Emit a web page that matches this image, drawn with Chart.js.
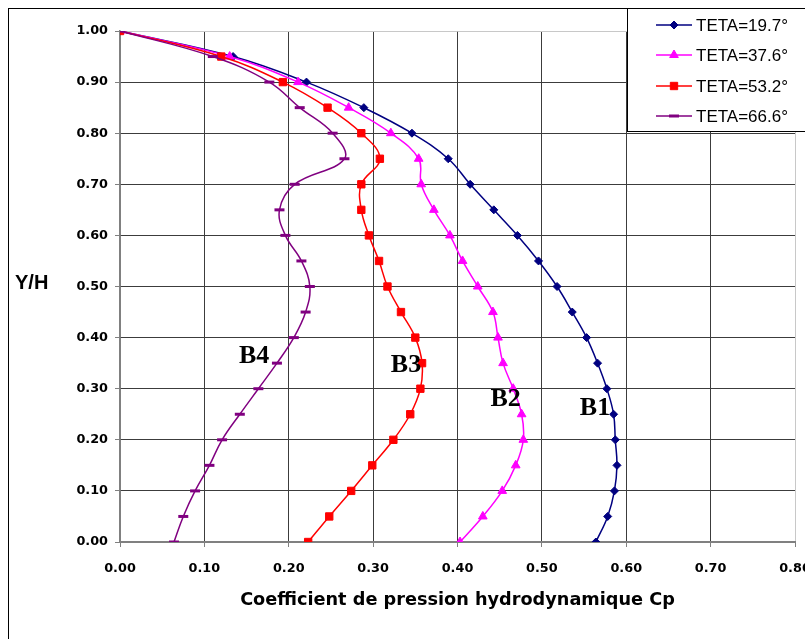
<!DOCTYPE html>
<html>
<head>
<meta charset="utf-8">
<script src="https://cdn.jsdelivr.net/npm/chart.js@4.4.1/dist/chart.umd.min.js"></script>
<style>
  html, body { margin: 0; padding: 0; background: #fff; overflow: hidden; }
  #wrap { width: 805px; height: 639px; overflow: hidden; }
</style>
</head>
<body>
<div id="wrap"><canvas id="chart" width="840" height="639"></canvas></div>
<script>
// Y/H levels, shared by every series (bottom to top)
const yLevels = [0.00, 0.05, 0.10, 0.15, 0.20, 0.25, 0.30, 0.35, 0.40, 0.45, 0.50,
                 0.55, 0.60, 0.65, 0.70, 0.75, 0.80, 0.85, 0.90, 0.95, 1.00];

// Cp, one value per Y/H level
const cpTeta197 = [0.564, 0.578, 0.586, 0.589, 0.587, 0.585, 0.577, 0.566, 0.553, 0.536, 0.518,
                   0.496, 0.471, 0.443, 0.415, 0.389, 0.346, 0.289, 0.221, 0.134, 0.000];
const cpTeta376 = [0.403, 0.430, 0.453, 0.469, 0.478, 0.476, 0.466, 0.454, 0.448, 0.442, 0.424,
                   0.406, 0.391, 0.372, 0.357, 0.354, 0.321, 0.271, 0.211, 0.130, 0.000];
const cpTeta532 = [0.223, 0.248, 0.274, 0.299, 0.324, 0.344, 0.356, 0.358, 0.350, 0.333, 0.317,
                   0.307, 0.295, 0.286, 0.286, 0.308, 0.286, 0.246, 0.193, 0.120, 0.000];
const cpTeta666 = [0.064, 0.075, 0.089, 0.106, 0.121, 0.142, 0.164, 0.186, 0.206, 0.220, 0.225,
                   0.215, 0.196, 0.189, 0.207, 0.266, 0.252, 0.213, 0.177, 0.110, 0.000];

const seriesNames = ["TETA=19.7°", "TETA=37.6°", "TETA=53.2°", "TETA=66.6°"];

// curve tags written on the plot (data coords of the text's left/baseline)
const curveTags = ["B1", "B2", "B3", "B4"];
const curveTagCp = [0.545, 0.439, 0.321, 0.141];
const curveTagY = [0.249, 0.266, 0.333, 0.350];

function toPoints(cp) {
  return cp.map((c, i) => ({ x: c, y: yLevels[i] }));
}

const SANS = "'Liberation Sans', Arial, sans-serif";
const WIDE = "'DejaVu Sans', Verdana, sans-serif";

function makeSeries(label, cp, color, style, radius, order, extra) {
  return Object.assign({
    label: label,
    data: toPoints(cp),
    showLine: true,
    tension: 0.4,
    borderColor: color,
    backgroundColor: color,
    borderWidth: 1.5,
    pointStyle: style,
    pointRadius: radius,
    pointHoverRadius: radius,
    pointBackgroundColor: color,
    pointBorderColor: color,
    pointBorderWidth: 1,
    order: order,
  }, extra || {});
}

const datasets = [
  makeSeries(seriesNames[0], cpTeta197, "#000080", "rectRot", 4, 4),
  makeSeries(seriesNames[1], cpTeta376, "#FF00FF", "triangle", 5, 3),
  makeSeries(seriesNames[2], cpTeta532, "#FF0000", "rect", 5.2, 2),
  makeSeries(seriesNames[3], cpTeta666, "#800080", "line", 5, 1, { pointBorderWidth: 3 }),
];

// white page + thin outer frame
const framePlugin = {
  id: "frame",
  beforeDraw(chart) {
    const ctx = chart.ctx;
    ctx.save();
    ctx.fillStyle = "#fff";
    ctx.fillRect(0, 0, chart.width, chart.height);
    ctx.strokeStyle = "#000";
    ctx.lineWidth = 1;
    ctx.strokeRect(8.5, 8.5, chart.width + 20, chart.height + 20);
    ctx.restore();
  },
};

// B1..B4 tags and the horizontal Y/H title
const textPlugin = {
  id: "texts",
  afterDatasetsDraw(chart) {
    const ctx = chart.ctx;
    const xs = chart.scales.x, ys = chart.scales.y;
    ctx.save();
    ctx.fillStyle = "#000";
    ctx.textBaseline = "alphabetic";
    ctx.textAlign = "left";
    ctx.font = "bold 26px 'Liberation Serif', 'Times New Roman', serif";
    curveTags.forEach((t, i) => {
      ctx.fillText(t, xs.getPixelForValue(curveTagCp[i]), ys.getPixelForValue(curveTagY[i]));
    });
    ctx.font = "bold 20px " + SANS;
    ctx.textBaseline = "middle";
    ctx.fillText("Y/H", 15, ys.getPixelForValue(0.505));
    ctx.restore();
  },
};

// legend box in the top right corner
const legendPlugin = {
  id: "boxLegend",
  afterDraw(chart) {
    const ctx = chart.ctx;
    ctx.save();
    ctx.fillStyle = "#fff";
    ctx.fillRect(627.5, 8.5, 300, 123);
    ctx.strokeStyle = "#000";
    ctx.lineWidth = 1;
    ctx.strokeRect(627.5, 8.5, 300, 123);
    const rowY = [25, 55, 86, 116];
    chart.data.datasets.forEach((ds, i) => {
      const y = rowY[i];
      ctx.strokeStyle = ds.borderColor;
      ctx.lineWidth = ds.borderWidth;
      ctx.beginPath();
      ctx.moveTo(656, y);
      ctx.lineTo(692, y);
      ctx.stroke();
      ctx.fillStyle = ds.pointBackgroundColor;
      ctx.strokeStyle = ds.pointBorderColor;
      ctx.lineWidth = ds.pointBorderWidth;
      Chart.helpers.drawPoint(ctx, { pointStyle: ds.pointStyle, radius: ds.pointRadius, rotation: 0, borderWidth: ds.pointBorderWidth }, 674, y);
      ctx.fillStyle = "#000";
      ctx.font = "17px " + SANS;
      ctx.textAlign = "left";
      ctx.textBaseline = "middle";
      ctx.fillText(ds.label, 696, y + 1);
    });
    ctx.restore();
  },
};

const gridColor = (max) => (c) => {
  if (c.tick.value === 0) return "#808080";
  if (Math.abs(c.tick.value - max) < 1e-9) return "#c8c8c8";
  return "#3c3c3c";
};

new Chart(document.getElementById("chart"), {
  type: "scatter",
  data: { datasets: datasets },
  plugins: [framePlugin, textPlugin, legendPlugin],
  options: {
    responsive: false,
    animation: false,
    devicePixelRatio: 1,
    layout: { padding: { top: 31, right: 45, left: 0, bottom: 0 } },
    plugins: { legend: { display: false }, tooltip: { enabled: false } },
    scales: {
      x: {
        type: "linear",
        min: 0,
        max: 0.8,
        afterFit(scale) { scale.height = 97; },
        ticks: {
          stepSize: 0.1,
          color: "#000",
          padding: 14,
          font: { family: WIDE, size: 12.8, weight: "bold" },
          callback: (v) => v.toFixed(2),
        },
        grid: { color: gridColor(0.8), tickColor: "#808080", tickLength: 5, lineWidth: 1 },
        border: { display: true, color: "#808080", width: 2 },
        title: {
          display: true,
          text: "Coefficient de pression hydrodynamique Cp",
          color: "#000",
          font: { family: WIDE, size: 17.7, weight: "bold" },
          padding: { top: 0, bottom: 28 },
        },
      },
      y: {
        type: "linear",
        min: 0,
        max: 1,
        afterFit(scale) { scale.width = 120; },
        ticks: {
          stepSize: 0.1,
          color: "#000",
          padding: 7,
          font: { family: WIDE, size: 12.8, weight: "bold" },
          callback: (v) => v.toFixed(2),
        },
        grid: { color: gridColor(1), tickColor: "#808080", tickLength: 5, lineWidth: 1 },
        border: { display: true, color: "#808080", width: 1.5 },
      },
    },
  },
});
</script>
</body>
</html>
